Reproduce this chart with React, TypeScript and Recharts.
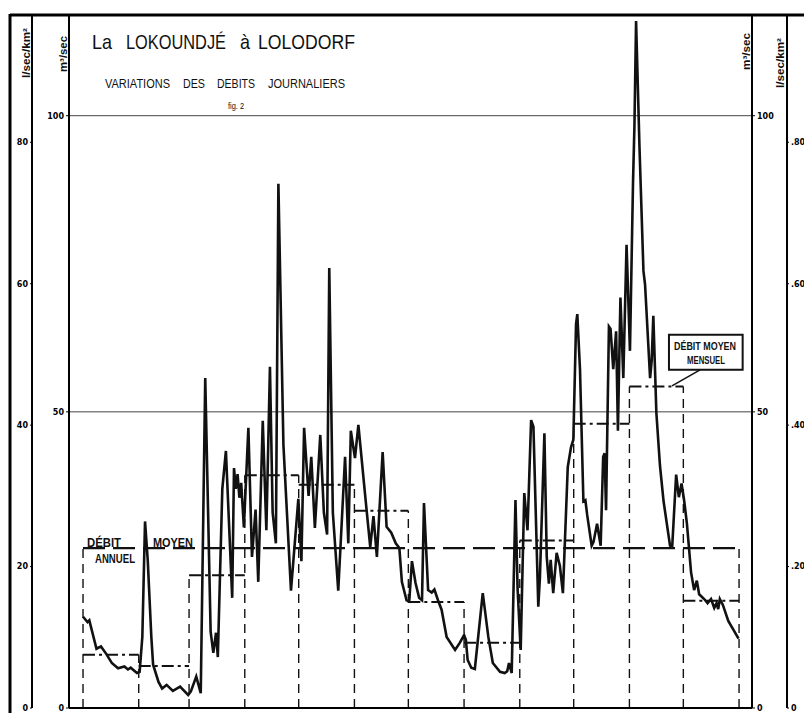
import React from "react";
import { LineChart, Line, XAxis, YAxis, ReferenceLine, ReferenceArea } from "recharts";

// months (day index of each month start, last = end of year)
const monthNames = ["JANV", "FÉV", "MARS", "AVRIL", "MAI", "JUIN", "JUIL", "AOUT", "SEPT", "OCT", "NOV", "DÉC"];
const monthStarts = [0, 31, 59, 90, 120, 151, 181, 212, 243, 273, 304, 334, 365];
const monthlyMeans = [9.0, 7.1, 22.4, 39.3, 37.7, 33.3, 17.9, 11.0, 28.3, 48.0, 54.3, 18.1]; // m3/s
const annualMean = 27.0;

const flowTicks = [0, 50, 100]; // m3/sec
const specificTicks = [0, 20, 40, 60, 80]; // l/sec/km2

// daily hydrograph, vertices (day of year, m3/sec)
const days = [
  0, 2.5, 3.5, 7.5, 10, 13, 16, 19.5, 23, 25, 26.5, 30,
  31.5, 33, 34.5, 36, 38, 39, 42, 44, 46.5, 50, 54, 58.5,
  60, 63, 65.5, 68, 71, 72.5, 74, 75, 77.5, 79.5, 83, 84, 85, 86, 87, 88, 89.5,
  92, 94, 96, 97.5, 100, 102, 104, 105.5, 107.3, 108.7, 111.5, 115.7, 119.8,
  121.5, 123, 125.5, 127, 129, 132, 134, 135.8, 137, 139, 142, 145.8, 147.6, 149, 151.3,
  153.2, 157, 159.8, 161.6, 163.5, 166.7, 168.9, 171.5, 174, 176, 177.4, 180,
  181.5, 183, 185, 187, 188.6, 189.7, 192, 194, 195.5, 197.5, 199.5, 202.3, 207, 209.6, 212,
  213, 214, 216, 218, 222.4, 225.5, 228, 232, 234.6, 236, 237, 238.5, 240.6, 241.8,
  243.5, 245.5, 247.3, 249.3, 250.6, 253.3, 254.2, 256.7, 258, 259.2, 260.2, 261.6, 263.5, 265.3, 267, 269.7, 271.5, 272.8,
  274.3, 275, 276.5, 278.4, 279.5, 280.5, 283, 284, 286, 288, 289.4, 290.2, 291, 292.6, 293.5, 295, 296.6, 297.6, 299, 300.6, 302.4,
  304.3, 306, 306.8, 307.7, 309.6, 311.8, 312.7, 315.5, 316.4, 317.3, 319, 321, 323, 326.6, 327.8, 330, 331.5, 333,
  334.5, 336, 338.3, 340, 341.5, 342.8, 345.6, 347.5, 349.4, 351.2, 352.5, 353.4, 354.3, 356, 359, 361.9, 364.7,
];
const flows = [
  15.4, 14.5, 14.8, 10.0, 10.4, 9.1, 7.6, 6.7, 7.0, 6.5, 6.8, 5.9,
  6.1, 12, 31.5, 25, 12, 7.3, 4.4, 3.3, 3.9, 2.9, 3.6, 2.2,
  2.8, 5.3, 2.5, 55.7, 12.9, 9.3, 12.7, 8.6, 37, 43.4, 18.6, 40.5, 37, 39.5, 35.5, 38, 30.5,
  47.3, 25.5, 33.5, 21.3, 48.5, 30, 57.6, 33, 27.8, 88.5, 44.4, 19.8, 35.3,
  24.8, 47.3, 35.8, 42.4, 30.4, 46.1, 33, 29.3, 74.3, 33, 19.8, 42.4, 27.8, 46.8, 42.2,
  47.8, 35.8, 27.2, 32.4, 25.5, 43.2, 30.6, 29.6, 27.8, 27, 21.3, 18.2,
  18.0, 24.8, 21.1, 18.6, 18.2, 34.6, 19.9, 19.5, 20, 18.2, 16.6, 12.0, 9.8, 11, 12.3,
  11.5, 8.1, 6.8, 6.6, 19.4, 12, 7.6, 6.1, 5.9, 6.2, 7.6, 5.9, 35.1, 20,
  9.8, 36.3, 30, 48.6, 47.5, 17.1, 22, 46.4, 25.5, 21, 25, 19.4, 26.2, 24, 19.4, 40.7, 44, 45.3,
  64.8, 66.5, 57.2, 34.9, 35.1, 32.6, 27.4, 28, 31.1, 27.4, 42.4, 43, 33.4, 64.4, 64, 57.2, 63.6, 46.8, 69.3, 55.7, 78.2,
  60.3, 88.7, 98.4, 116, 94.7, 73.8, 71.5, 55.7, 58.7, 66.2, 49.8, 40.9, 34.9, 27.4, 27.2, 39.4, 35.6, 37.9,
  34.9, 31.1, 22.9, 19.9, 21.5, 19.2, 18.4, 17.7, 18.4, 16.9, 17.7, 16.7, 18.4, 17.4, 14.7, 13.2, 11.7,
];

const curve = days.map((d, i) => ({ day: d, q: flows[i] }));
const monthMids = monthNames.map((_, i) => (monthStarts[i] + monthStarts[i + 1]) / 2);

const tickStyle = { fontSize: 8, fontWeight: 700, fill: "#000", fontFamily: "DejaVu Sans" };
const axisStroke = { stroke: "#000", strokeWidth: 2 };

function T({ x, y, len, size, children, bold, rot }: any) {
  return (
    <text
      x={x}
      y={y}
      fontSize={size}
      fontWeight={bold ? 700 : 400}
      textLength={len}
      lengthAdjust="spacingAndGlyphs"
      transform={rot ? `rotate(-90 ${x} ${y})` : undefined}
      fill="#111"
    >
      {children}
    </text>
  );
}

export default function App() {
  const boundaries = monthStarts.map((d, j) => {
    const prev = j > 0 ? monthlyMeans[j - 1] : annualMean;
    const next = j < 12 ? monthlyMeans[j] : annualMean;
    return { d, top: Math.max(prev, next) };
  });

  return (
    <div style={{ position: "absolute", left: 0, top: 0, width: 804, height: 713, background: "#fff", fontFamily: "Liberation Sans" }}>
      <LineChart width={804} height={713} data={curve} margin={{ top: 15, right: 0, bottom: 0, left: 10 }}>
        <XAxis
          dataKey="day"
          type="number"
          domain={[-7.8, 372.2]}
          allowDataOverflow
          ticks={monthMids}
          tickFormatter={(v: number) => monthNames[monthMids.indexOf(v)] ?? ""}
          height={5}
          axisLine={axisStroke}
          tickLine={false}
          tickMargin={2}
          tick={tickStyle}
        />
        <YAxis yAxisId="q" orientation="left" width={37} type="number" domain={[0, 117]} allowDataOverflow
          ticks={flowTicks} axisLine={axisStroke} tickLine={{ stroke: "#000" }} tickSize={3} tick={tickStyle} />
        <YAxis yAxisId="s" orientation="left" width={22} type="number" domain={[0, 98]} allowDataOverflow
          ticks={specificTicks} axisLine={axisStroke} tickLine={{ stroke: "#000" }} tickSize={2} tick={tickStyle} />
        <YAxis yAxisId="q2" orientation="right" width={35} type="number" domain={[0, 117]} allowDataOverflow
          ticks={flowTicks} axisLine={axisStroke} tickLine={{ stroke: "#000" }} tickSize={3} tick={tickStyle} />
        <YAxis yAxisId="s2" orientation="right" width={17} type="number" domain={[0, 98]} allowDataOverflow
          ticks={specificTicks} tickFormatter={(v: number) => (v === 0 ? "0" : "." + v)}
          axisLine={axisStroke} tickLine={{ stroke: "#000" }} tickSize={2} tick={tickStyle} />

        <ReferenceLine yAxisId="q" y={50} stroke="#444" strokeWidth={1} />
        <ReferenceLine yAxisId="q" y={100} stroke="#444" strokeWidth={1} />

        {boundaries.map((b, j) => (
          <ReferenceLine key={"b" + j} yAxisId="q" stroke="#111" strokeWidth={1.4} strokeDasharray="9 6"
            segment={[{ x: b.d, y: 0 }, { x: b.d, y: b.top }]} />
        ))}
        {monthlyMeans.map((m, i) => (
          <ReferenceLine key={"m" + i} yAxisId="q" stroke="#111" strokeWidth={2} strokeDasharray="12 4 3 4"
            segment={[{ x: monthStarts[i], y: m }, { x: monthStarts[i + 1], y: m }]} />
        ))}
        <ReferenceLine yAxisId="q" stroke="#111" strokeWidth={2.2} strokeDasharray="22 8"
          segment={[{ x: 0, y: annualMean }, { x: 365, y: annualMean }]} />

        <ReferenceLine yAxisId="q" stroke="#111" strokeWidth={1.5}
          segment={[{ x: 327.7, y: 54.4 }, { x: 343.3, y: 57.1 }]} />
        <ReferenceArea yAxisId="q" x1={326} x2={367} y1={57.1} y2={63} fill="#fff" fillOpacity={1}
          stroke="#111" strokeWidth={2} ifOverflow="visible" />

        <Line yAxisId="q" type="linear" dataKey="q" stroke="#111" strokeWidth={2.6} dot={false} isAnimationActive={false} />
      </LineChart>

      <svg width={804} height={713} style={{ position: "absolute", left: 0, top: 0, pointerEvents: "none" }} fontFamily="Liberation Sans">
        <line x1={10} y1={15} x2={804} y2={15} stroke="#000" strokeWidth={3} />
        <line x1={10} y1={14} x2={10} y2={713} stroke="#000" strokeWidth={3} />

        <T x={92} y={49} size={21} len={20}>La</T>
        <T x={126} y={49} size={21} len={100}>LOKOUNDJÉ</T>
        <T x={240} y={49} size={21} len={10}>à</T>
        <T x={258} y={49} size={21} len={97}>LOLODORF</T>

        <T x={105} y={88} size={12.5} len={65}>VARIATIONS</T>
        <T x={183} y={88} size={12.5} len={22}>DES</T>
        <T x={217} y={88} size={12.5} len={38}>DEBITS</T>
        <T x={268} y={88} size={12.5} len={77}>JOURNALIERS</T>
        <T x={228} y={109} size={9} len={16}>fig. 2</T>

        <T x={30} y={78} size={10} len={50} bold rot>l/sec/km²</T>
        <T x={67} y={72} size={10} len={36} bold rot>m³/sec</T>
        <T x={750} y={70} size={10} len={37} bold rot>m³/sec</T>
        <T x={784} y={88} size={10} len={50} bold rot>l/sec/km²</T>

        <T x={87} y={547} size={12} len={34} bold>DÉBIT</T>
        <T x={95} y={563} size={12} len={40} bold>ANNUEL</T>
        <T x={153} y={547} size={12} len={40} bold>MOYEN</T>

        <T x={674} y={350} size={10} len={62} bold>DÉBIT MOYEN</T>
        <T x={687} y={364} size={10} len={38} bold>MENSUEL</T>
      </svg>
    </div>
  );
}
